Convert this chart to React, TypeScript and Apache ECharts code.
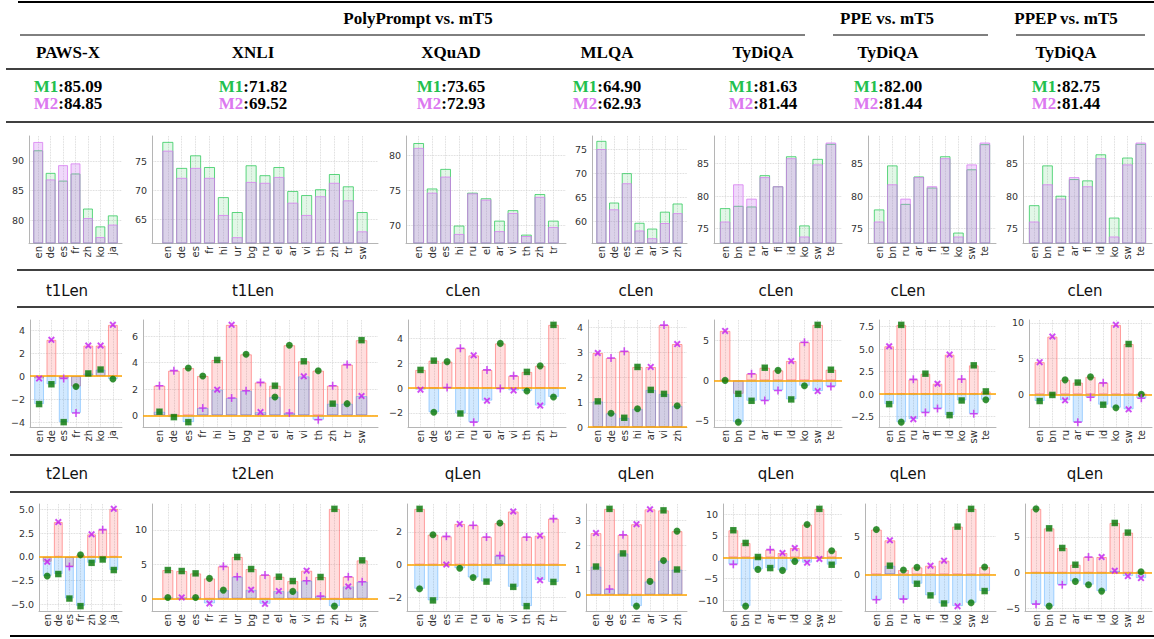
import React, { useEffect, useRef } from "react";
import * as echarts from "echarts";

// ---------------- categories ----------------
const pawsLangs = ["en", "de", "es", "fr", "zh", "ko", "ja"];
const xnliLangs = ["en", "de", "es", "fr", "hi", "ur", "bg", "ru", "el", "ar", "vi", "th", "zh", "tr", "sw"];
const xquadLangs = ["en", "de", "es", "hi", "ru", "el", "ar", "vi", "th", "zh", "tr"];
const mlqaLangs = ["en", "de", "es", "hi", "ar", "vi", "zh"];
const tydiLangs = ["en", "bn", "ru", "ar", "fi", "id", "ko", "sw", "te"];

// ---------------- header texts ----------------
const groupTitles = ["PolyPrompt vs. mT5", "PPE vs. mT5", "PPEP vs. mT5"];
const datasetNames = ["PAWS-X", "XNLI", "XQuAD", "MLQA", "TyDiQA", "TyDiQA", "TyDiQA"];
const m1Avg = ["85.09", "71.82", "73.65", "64.90", "81.63", "82.00", "82.75"];
const m2Avg = ["84.85", "69.52", "72.93", "62.93", "81.44", "81.44", "81.44"];
const row2Names = ["t1Len", "t1Len", "cLen", "cLen", "cLen", "cLen", "cLen"];
const row3Names = ["t2Len", "t2Len", "qLen", "qLen", "qLen", "qLen", "qLen"];

// ---------------- row 1: scores (M1 green, M2 violet) ----------------
const pawsM1 = [91.8, 88.0, 86.7, 87.9, 82.0, 79.0, 80.85];
const pawsM2 = [93.2, 86.9, 89.3, 89.6, 80.4, 77.2, 79.3];
const xnliM1 = [78.3, 73.85, 76.0, 74.0, 68.85, 66.3, 74.3, 72.6, 74.0, 69.9, 69.2, 70.2, 72.8, 70.7, 66.3];
const xnliM2 = [76.8, 72.15, 73.85, 72.15, 65.8, 62.0, 71.45, 71.3, 72.3, 67.9, 65.8, 69.0, 71.3, 68.3, 63.0];
const xquadM1 = [81.8, 75.3, 78.1, 70.0, 74.7, 73.9, 70.7, 72.2, 68.7, 74.5, 70.7];
const xquadM2 = [81.1, 74.7, 77.0, 68.8, 74.6, 73.7, 69.2, 71.8, 68.5, 74.1, 69.8];
const mlqaM1 = [76.7, 63.9, 70.0, 59.7, 58.5, 62.0, 63.7];
const mlqaM2 = [75.0, 62.5, 67.9, 58.1, 56.5, 59.65, 61.7];
const tydiPolyM1 = [78.15, 78.5, 78.4, 83.2, 81.5, 86.1, 75.5, 85.7, 88.0];
const tydiPpeM1 = [77.95, 84.7, 78.8, 83.0, 81.3, 86.1, 74.4, 84.1, 87.95];
const tydiPpepM1 = [78.6, 84.7, 80.05, 82.6, 82.4, 86.4, 76.7, 85.9, 88.0];
const tydiM2 = [76.1, 81.8, 79.6, 82.9, 81.5, 85.8, 73.8, 84.85, 88.2];

// ---------------- row 2: t1Len / cLen differences ----------------
// upper = top of red bar, lower = top of blue bar; shapes: s square, o circle (green), x / + (magenta)
const pawsT1Up = [-0.2, 3.15, -0.2, -0.9, 2.65, 2.65, 4.45];
const pawsT1Lo = [-2.43, -0.71, -4.0, -3.2, 0.23, 0.57, -0.26];
const pawsT1UpS = ["x", "x", "+", "o", "x", "x", "x"];
const pawsT1LoS = ["s", "s", "s", "+", "s", "s", "o"];

const xnliT1Up = [2.25, 3.39, 3.59, 2.99, 4.2, 6.86, 4.63, 2.5, 2.25, 5.32, 4.1, 3.39, 2.25, 3.85, 5.7];
const xnliT1Lo = [0.28, -0.13, -0.51, 0.56, 1.95, 1.32, 1.87, 0.25, 1.39, 0.18, 2.96, -0.33, 0.89, 0.89, 1.47];
const xnliT1UpS = ["+", "+", "o", "o", "s", "x", "o", "+", "s", "o", "s", "o", "+", "+", "s"];
const xnliT1LoS = ["s", "s", "s", "+", "x", "+", "+", "x", "o", "+", "x", "+", "s", "o", "x"];

const xquadCUp = [1.47, 2.22, 2.14, 3.22, 2.65, 1.47, 3.62, 0.99, 1.31, 1.8, 5.12];
const xquadCLo = [-0.13, -1.96, 0.05, -2.06, -2.76, -1.02, -0.03, -0.19, -0.24, -1.42, -0.72];
const xquadCUpS = ["s", "s", "o", "+", "x", "+", "o", "+", "s", "o", "s"];
const xquadCLoS = ["x", "o", "+", "s", "+", "x", "+", "x", "o", "x", "o"];

const mlqaCUp = [2.97, 2.77, 3.04, 2.41, 2.41, 4.09, 3.33];
const mlqaCLo = [1.03, 0.55, 0.37, 0.73, 1.49, 1.33, 0.85];
const mlqaCUpS = ["x", "+", "+", "s", "x", "+", "x"];
const mlqaCLoS = ["s", "o", "s", "o", "s", "s", "o"];

const tydiCUp = [6.17, -1.67, 0.83, 1.58, 1.25, 2.42, 4.75, 6.92, 1.33];
const tydiCLo = [0.0, -5.2, -2.54, -2.5, -1.25, -2.37, -0.67, -1.33, -0.75];
const tydiCUpS = ["x", "s", "+", "s", "o", "x", "+", "s", "s"];
const tydiCLoS = ["o", "o", "s", "+", "+", "s", "o", "x", "+"];

const ppeCUp = [5.32, 7.7, 1.64, 2.27, 1.15, 4.39, 1.67, 3.2, 0.3];
const ppeCLo = [-1.12, -3.12, -2.79, -2.04, -1.6, -2.34, -0.71, -2.19, -0.63];
const ppeCUpS = ["x", "s", "+", "s", "x", "x", "+", "s", "s"];
const ppeCLoS = ["s", "o", "x", "+", "+", "s", "s", "+", "o"];

const ppepCUp = [4.5, 8.08, 2.02, 1.64, 2.44, 1.6, 9.72, 7.04, 0.0];
const ppepCLo = [-0.94, -0.09, -0.85, -3.9, -0.42, -1.46, -1.88, -2.11, -0.56];
const ppepCUpS = ["x", "x", "o", "s", "o", "+", "x", "s", "o"];
const ppepCLoS = ["s", "s", "x", "+", "+", "s", "o", "x", "+"];

// ---------------- row 3: t2Len / qLen differences ----------------
const pawsT2Up = [-0.52, 3.66, -1.01, 0.21, 2.37, 2.86, 5.05];
const pawsT2Lo = [-2.02, -1.81, -4.39, -5.19, -0.63, -0.28, -1.39];
const pawsT2UpS = ["x", "x", "+", "o", "x", "+", "x"];
const pawsT2LoS = ["o", "s", "s", "s", "s", "s", "s"];

const xnliT2Up = [4.17, 4.03, 3.69, 2.96, 4.71, 6.07, 4.32, 3.45, 3.2, 2.57, 4.08, 3.16, 13.06, 3.2, 5.58];
const xnliT2Lo = [0.19, 0.19, 0.19, -0.68, 1.26, 3.2, 1.31, -0.73, 1.12, 1.07, 2.62, 0.39, -1.07, 1.8, 2.48];
const xnliT2UpS = ["s", "s", "s", "o", "+", "s", "s", "+", "s", "s", "x", "s", "s", "+", "s"];
const xnliT2LoS = ["o", "x", "o", "x", "o", "+", "x", "x", "x", "o", "+", "+", "o", "x", "+"];

const xquadQUp = [3.41, 1.83, 1.73, 2.49, 2.41, 1.69, 2.54, 3.25, 1.69, 1.77, 2.81];
const xquadQLo = [-1.48, -2.19, 0.0, -0.22, -0.79, -1.04, 0.55, -1.36, -2.54, -0.95, -1.06];
const xquadQUpS = ["s", "o", "+", "x", "+", "+", "o", "x", "+", "x", "+"];
const xquadQLoS = ["o", "s", "x", "o", "o", "s", "+", "s", "s", "x", "s"];

const mlqaQUp = [2.49, 3.47, 2.42, 2.85, 3.45, 3.41, 2.57];
const mlqaQLo = [1.14, 0.23, 1.67, -0.46, 0.54, 1.38, 1.02];
const mlqaQUpS = ["x", "s", "+", "x", "x", "s", "o"];
const mlqaQLoS = ["s", "+", "s", "o", "o", "o", "s"];

const tydiQUp = [6.33, 3.36, 0.08, 1.8, 1.02, 2.19, 7.66, 11.33, 1.56];
const tydiQLo = [-1.64, -11.4, -2.81, -2.5, -3.05, -0.94, -1.25, -0.39, -1.72];
const tydiQUpS = ["s", "s", "s", "+", "x", "x", "o", "s", "o"];
const tydiQLoS = ["+", "o", "o", "s", "o", "o", "x", "x", "s"];

const ppeQUp = [5.88, 4.47, 0.57, 0.92, 1.14, 1.8, 6.27, 8.6, 0.96];
const ppeQLo = [-3.33, 1.14, -3.25, -1.23, -2.76, -3.82, -4.17, -3.73, -2.19];
const ppeQUpS = ["o", "x", "o", "o", "x", "x", "s", "s", "o"];
const ppeQLoS = ["+", "s", "+", "s", "s", "s", "x", "o", "s"];

const ppepQUp = [8.93, 6.21, 3.46, 1.12, 2.2, 2.2, 6.96, 5.61, 0.14];
const ppepQLo = [-4.39, -4.67, -1.68, -1.21, -1.68, -2.57, 0.28, -0.47, -0.75];
const ppepQUpS = ["o", "s", "s", "s", "+", "x", "s", "s", "o"];
const ppepQLoS = ["+", "o", "+", "o", "o", "o", "x", "x", "x"];

// ---------------- y tick values ----------------
const row1Ticks = [[80, 85, 90], [65, 70, 75], [70, 75, 80], [60, 65, 70, 75], [75, 80, 85], [75, 80, 85], [75, 80, 85]];
const row2Ticks = [[-4, -2, 0, 2, 4], [0, 2, 4, 6], [-2, 0, 2, 4], [0, 1, 2, 3, 4], [-5, 0, 5], [-2.5, 0, 2.5, 5, 7.5], [0, 5, 10]];
const row3Ticks = [[-5, -2.5, 0, 2.5, 5], [0, 5, 10], [-2, 0, 2], [0, 1, 2, 3], [-10, -5, 0, 5, 10], [0, 5], [-5, 0, 5]];

// ---------------- layout (pixels) ----------------
const W = 1154;
const H = 639;
const colRight = [122, 378, 566, 687, 842, 996, 1152];
const rowLeft = [
  [29, 152, 406, 592, 714, 868, 1023],
  [30, 143, 408, 588, 714, 879, 1029],
  [39, 152, 407, 586, 723, 865, 1025],
];
const rowTop = [136, 320, 504];
const rowBottom = [243, 427, 611];
const colTextX = [68, 253, 451, 607, 763, 888, 1066];
const rowLabelX = [67, 253, 463, 636, 776, 908, 1085];
const groupTextX = [418, 887, 1066];

const GREEN = "#007400";
const MAGENTA = "#c31cf2";
const AXIS_FONT = "DejaVu Sans";
const SERIF = "Liberation Serif";

const SHAPES: Record<string, { symbol: string; size: number; color: string }> = {
  s: { symbol: "rect", size: 6.5, color: GREEN },
  o: { symbol: "circle", size: 7, color: GREEN },
  x: { symbol: "path://M2,0L5,3L8,0L10,2L7,5L10,8L8,10L5,7L2,10L0,8L3,5L0,2Z", size: 7, color: MAGENTA },
  "+": { symbol: "path://M4,0H6V4H10V6H6V10H4V6H0V4H4Z", size: 8, color: MAGENTA },
};

type ScorePanel = { kind: "score"; langs: string[]; m1: number[]; m2: number[]; ticks: number[] };
type DiffPanel = {
  kind: "diff"; langs: string[]; up: number[]; lo: number[]; upS: string[]; loS: string[]; ticks: number[];
};
type Panel = ScorePanel | DiffPanel;

const rows: Panel[][] = [
  [
    { kind: "score", langs: pawsLangs, m1: pawsM1, m2: pawsM2, ticks: row1Ticks[0] },
    { kind: "score", langs: xnliLangs, m1: xnliM1, m2: xnliM2, ticks: row1Ticks[1] },
    { kind: "score", langs: xquadLangs, m1: xquadM1, m2: xquadM2, ticks: row1Ticks[2] },
    { kind: "score", langs: mlqaLangs, m1: mlqaM1, m2: mlqaM2, ticks: row1Ticks[3] },
    { kind: "score", langs: tydiLangs, m1: tydiPolyM1, m2: tydiM2, ticks: row1Ticks[4] },
    { kind: "score", langs: tydiLangs, m1: tydiPpeM1, m2: tydiM2, ticks: row1Ticks[5] },
    { kind: "score", langs: tydiLangs, m1: tydiPpepM1, m2: tydiM2, ticks: row1Ticks[6] },
  ],
  [
    { kind: "diff", langs: pawsLangs, up: pawsT1Up, lo: pawsT1Lo, upS: pawsT1UpS, loS: pawsT1LoS, ticks: row2Ticks[0] },
    { kind: "diff", langs: xnliLangs, up: xnliT1Up, lo: xnliT1Lo, upS: xnliT1UpS, loS: xnliT1LoS, ticks: row2Ticks[1] },
    { kind: "diff", langs: xquadLangs, up: xquadCUp, lo: xquadCLo, upS: xquadCUpS, loS: xquadCLoS, ticks: row2Ticks[2] },
    { kind: "diff", langs: mlqaLangs, up: mlqaCUp, lo: mlqaCLo, upS: mlqaCUpS, loS: mlqaCLoS, ticks: row2Ticks[3] },
    { kind: "diff", langs: tydiLangs, up: tydiCUp, lo: tydiCLo, upS: tydiCUpS, loS: tydiCLoS, ticks: row2Ticks[4] },
    { kind: "diff", langs: tydiLangs, up: ppeCUp, lo: ppeCLo, upS: ppeCUpS, loS: ppeCLoS, ticks: row2Ticks[5] },
    { kind: "diff", langs: tydiLangs, up: ppepCUp, lo: ppepCLo, upS: ppepCUpS, loS: ppepCLoS, ticks: row2Ticks[6] },
  ],
  [
    { kind: "diff", langs: pawsLangs, up: pawsT2Up, lo: pawsT2Lo, upS: pawsT2UpS, loS: pawsT2LoS, ticks: row3Ticks[0] },
    { kind: "diff", langs: xnliLangs, up: xnliT2Up, lo: xnliT2Lo, upS: xnliT2UpS, loS: xnliT2LoS, ticks: row3Ticks[1] },
    { kind: "diff", langs: xquadLangs, up: xquadQUp, lo: xquadQLo, upS: xquadQUpS, loS: xquadQLoS, ticks: row3Ticks[2] },
    { kind: "diff", langs: mlqaLangs, up: mlqaQUp, lo: mlqaQLo, upS: mlqaQUpS, loS: mlqaQLoS, ticks: row3Ticks[3] },
    { kind: "diff", langs: tydiLangs, up: tydiQUp, lo: tydiQLo, upS: tydiQUpS, loS: tydiQLoS, ticks: row3Ticks[4] },
    { kind: "diff", langs: tydiLangs, up: ppeQUp, lo: ppeQLo, upS: ppeQUpS, loS: ppeQLoS, ticks: row3Ticks[5] },
    { kind: "diff", langs: tydiLangs, up: ppepQUp, lo: ppepQLo, upS: ppepQUpS, loS: ppepQLoS, ticks: row3Ticks[6] },
  ],
];

function tickFormatter(ticks: number[]) {
  const dec = Math.max(...ticks.map((t) => (String(t).split(".")[1] || "").length));
  return (v: number) => {
    const s = Number(v).toFixed(dec);
    return s.startsWith("-") ? "\u2212" + s.slice(1) : s;
  };
}

function buildOption() {
  const grid: any[] = [];
  const xAxis: any[] = [];
  const yAxis: any[] = [];
  const series: any[] = [];

  rows.forEach((row, r) => {
    row.forEach((p, c) => {
      const k = grid.length;
      const left = rowLeft[r][c];
      const width = colRight[c] - left;
      const top = rowTop[r];
      const height = rowBottom[r] - top;
      const n = p.langs.length;
      const span = (n - 0.2) * 1.1;
      const xmin = -0.4 - 0.05 * (n - 0.2);
      const xmax = xmin + span;
      const bw = (0.8 * width) / span;
      const idx = p.langs.map((_, i) => i);

      let ymin: number;
      let ymax: number;
      if (p.kind === "score") {
        const all = p.m1.concat(p.m2);
        ymin = Math.min(...all) - 1;
        ymax = Math.max(...all) + 1;
      } else {
        const lo = Math.min(0, ...p.lo, ...p.up);
        const hi = Math.max(0, ...p.lo, ...p.up);
        const pad = 0.05 * (hi - lo);
        ymin = lo < 0 ? lo - pad : 0;
        ymax = hi > 0 ? hi + pad : 0;
      }

      grid.push({ left, top, width, height, containLabel: false });
      xAxis.push({
        type: "value",
        gridIndex: k,
        min: xmin,
        max: xmax,
        axisLine: { show: true, onZero: false, lineStyle: { color: "#b5b5b5", width: 1 } },
        axisTick: { show: false, customValues: idx },
        axisLabel: {
          customValues: idx,
          formatter: (v: number) => p.langs[Math.round(v)] ?? "",
          rotate: 90,
          fontSize: 10,
          fontFamily: AXIS_FONT,
          color: "#333",
          margin: 3,
        },
        splitLine: { show: true, lineStyle: { color: "#cfcfcf", type: "dotted", width: 0.8 } },
      });
      yAxis.push({
        type: "value",
        gridIndex: k,
        min: ymin,
        max: ymax,
        axisLine: { show: true, onZero: false, lineStyle: { color: "#b5b5b5", width: 1 } },
        axisTick: { show: false, customValues: p.ticks },
        axisLabel: {
          customValues: p.ticks,
          formatter: tickFormatter(p.ticks),
          fontSize: 9.5,
          fontFamily: AXIS_FONT,
          color: "#333",
          margin: 5,
        },
        splitLine: { show: true, lineStyle: { color: "#cfcfcf", type: "dotted", width: 0.8 } },
      });

      if (p.kind === "score") {
        series.push({
          type: "bar",
          xAxisIndex: k,
          yAxisIndex: k,
          barWidth: bw,
          barGap: "-100%",
          data: p.m1.map((v, i) => [i, v]),
          itemStyle: { color: "rgba(60,200,95,0.15)", borderColor: "rgba(40,200,85,0.75)", borderWidth: 1 },
        });
        series.push({
          type: "bar",
          xAxisIndex: k,
          yAxisIndex: k,
          barWidth: bw,
          barGap: "-100%",
          data: p.m2.map((v, i) => [i, v]),
          itemStyle: { color: "rgba(200,110,240,0.27)", borderColor: "rgba(215,120,240,0.75)", borderWidth: 1 },
        });
      } else {
        series.push({
          type: "bar",
          xAxisIndex: k,
          yAxisIndex: k,
          barWidth: bw,
          barGap: "-100%",
          data: p.up.map((v, i) => [i, v]),
          itemStyle: { color: "rgba(255,90,90,0.2)", borderColor: "rgba(255,90,90,0.55)", borderWidth: 1 },
        });
        series.push({
          type: "bar",
          xAxisIndex: k,
          yAxisIndex: k,
          barWidth: bw,
          barGap: "-100%",
          data: p.lo.map((v, i) => [i, v]),
          itemStyle: { color: "rgba(30,144,255,0.2)", borderColor: "rgba(30,144,255,0.35)", borderWidth: 1 },
          markLine: {
            silent: true,
            symbol: ["none", "none"],
            label: { show: false },
            lineStyle: { color: "#ffa500", width: 1.6, type: "solid" },
            data: [{ yAxis: 0 }],
          },
        });
        const pts: any[] = [];
        p.up.forEach((v, i) => {
          const s = SHAPES[p.upS[i]];
          pts.push({ value: [i, v], symbol: s.symbol, symbolSize: s.size, itemStyle: { color: s.color } });
        });
        p.lo.forEach((v, i) => {
          const s = SHAPES[p.loS[i]];
          pts.push({ value: [i, v], symbol: s.symbol, symbolSize: s.size, itemStyle: { color: s.color } });
        });
        series.push({
          type: "scatter",
          xAxisIndex: k,
          yAxisIndex: k,
          z: 5,
          data: pts,
          itemStyle: { borderColor: "rgba(230,245,230,0.5)", borderWidth: 0.3 },
        });
      }
    });
  });

  const serifBold = { fontFamily: SERIF, fontWeight: "bold" as const, fontSize: 17 };
  const elements: any[] = [];
  const text = (x: number, y: number, t: string, extra: any = {}) =>
    elements.push({
      type: "text",
      x,
      y,
      style: {
        text: t,
        fill: "#000",
        align: "center",
        textAlign: "center",
        verticalAlign: "middle",
        textVerticalAlign: "middle",
        ...serifBold,
        ...extra,
      },
    });
  const line = (x1: number, y: number, x2: number, w: number) =>
    elements.push({ type: "line", shape: { x1, y1: y, x2, y2: y }, style: { stroke: "#000", lineWidth: w } });

  groupTitles.forEach((t, i) => text(groupTextX[i], 18, t));
  datasetNames.forEach((t, i) => text(colTextX[i], 52, t));
  const rich = {
    g: { fill: "#22c04e", fontFamily: SERIF, fontWeight: "bold", fontSize: 17 },
    v: { fill: "#dc78f0", fontFamily: SERIF, fontWeight: "bold", fontSize: 17 },
  };
  m1Avg.forEach((t, i) => text(colTextX[i], 86, `{g|M1}:${t}`, { rich }));
  m2Avg.forEach((t, i) => text(colTextX[i], 103, `{v|M2}:${t}`, { rich }));
  const sans = { fontFamily: AXIS_FONT, fontWeight: "normal", fontSize: 15, fill: "#111" };
  row2Names.forEach((t, i) => text(rowLabelX[i], 291, t, sans));
  row3Names.forEach((t, i) => text(rowLabelX[i], 474, t, sans));

  line(18, 2, W, 1.8);
  line(20, 35, 805, 1);
  line(833, 35, 988, 1);
  line(1016, 35, 1145, 1);
  line(6, 69, W, 1.4);
  line(6, 122, W, 1.4);
  line(17, 270, W, 1.3);
  line(17, 307, W, 1.3);
  line(10, 455, W, 1.3);
  line(10, 492, W, 1.3);
  line(10, 636, W, 1.8);

  return {
    animation: false,
    backgroundColor: "#fff",
    grid,
    xAxis,
    yAxis,
    series,
    graphic: { elements },
  };
}

export default function App() {
  const ref = useRef<HTMLDivElement>(null);
  useEffect(() => {
    if (!ref.current) return;
    const chart = echarts.init(ref.current, null, { renderer: "svg", width: W, height: H });
    chart.setOption(buildOption() as any);
    return () => chart.dispose();
  }, []);
  return (
    <div
      ref={ref}
      style={{ position: "fixed", left: 0, top: 0, width: W, height: H, background: "#fff" }}
    />
  );
}
